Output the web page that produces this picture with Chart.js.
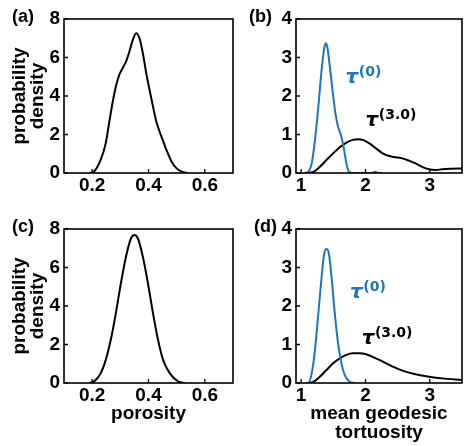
<!DOCTYPE html>
<html>
<head>
<meta charset="utf-8">
<script src="https://cdn.jsdelivr.net/npm/chart.js@4.4.1/dist/chart.umd.min.js"></script>
<style>
  body { margin: 0; background: #fff; }
  #wrap { position: relative; width: 464px; height: 446px; }
  canvas { position: absolute; }
</style>
</head>
<body>
<div id="wrap">
  <canvas id="panelA" width="240" height="205" style="left:0px;top:0px"></canvas>
  <canvas id="panelB" width="228" height="205" style="left:236px;top:0px"></canvas>
  <canvas id="panelC" width="240" height="236" style="left:0px;top:210px"></canvas>
  <canvas id="panelD" width="228" height="236" style="left:236px;top:210px"></canvas>
</div>
<script>
// ---- data ----
// (a) porosity density, top row
const porosityA_x = [0.19, 0.206, 0.23, 0.248, 0.26, 0.272, 0.284, 0.296, 0.308, 0.32, 0.332, 0.344, 0.356, 0.368, 0.38, 0.392, 0.404, 0.416, 0.428, 0.446, 0.464, 0.482, 0.50, 0.518, 0.54];
const porosityA_y = [0.0, 0.07, 0.68, 1.54, 2.58, 3.62, 4.48, 5.09, 5.44, 5.78, 6.3, 6.9, 7.26, 7.0, 6.22, 5.18, 4.31, 3.45, 2.66, 1.89, 1.19, 0.59, 0.24, 0.07, 0.0];

// (c) porosity density, bottom row
const porosityC_x = [0.19, 0.206, 0.23, 0.248, 0.266, 0.284, 0.302, 0.32, 0.338, 0.35, 0.362, 0.38, 0.398, 0.416, 0.434, 0.452, 0.476, 0.506, 0.53];
const porosityC_y = [0.0, 0.07, 0.5, 1.19, 2.23, 3.62, 5.18, 6.56, 7.52, 7.69, 7.52, 6.56, 5.18, 3.62, 2.23, 1.19, 0.5, 0.07, 0.0];

// (b) tortuosity tau(0) and tau(3.0)
const tau0B_x = [1.08, 1.112, 1.164, 1.215, 1.267, 1.318, 1.359, 1.385, 1.41, 1.446, 1.487, 1.533, 1.574, 1.626, 1.667, 1.703, 1.744, 1.8, 2.1, 2.15, 2.2, 2.25];
const tau0B_y = [0, 0.03, 0.25, 0.86, 1.72, 2.68, 3.24, 3.37, 3.24, 2.76, 2.16, 1.55, 1.2, 0.94, 0.6, 0.25, 0.03, 0, 0, 0.03, 0, 0];
const tau3B_x = [1.05, 1.19, 1.29, 1.395, 1.497, 1.6, 1.703, 1.805, 1.882, 1.959, 2.06, 2.164, 2.267, 2.37, 2.47, 2.574, 2.677, 2.78, 2.88, 2.985, 3.09, 3.19, 3.34, 3.5];
const tau3B_y = [0, 0.03, 0.16, 0.34, 0.51, 0.67, 0.79, 0.86, 0.875, 0.86, 0.77, 0.64, 0.51, 0.44, 0.41, 0.38, 0.32, 0.25, 0.16, 0.096, 0.078, 0.096, 0.11, 0.12];

// (d) tortuosity tau(0) and tau(3.0)
const tau0D_x = [1.08, 1.112, 1.164, 1.215, 1.267, 1.318, 1.359, 1.395, 1.43, 1.472, 1.523, 1.574, 1.626, 1.677, 1.754, 1.83];
const tau0D_y = [0, 0.0, 0.25, 0.86, 1.81, 2.76, 3.37, 3.48, 3.37, 2.76, 1.81, 1.03, 0.51, 0.21, 0.03, 0];
const tau3D_x = [1.08, 1.19, 1.29, 1.395, 1.497, 1.6, 1.703, 1.805, 1.908, 2.01, 2.11, 2.216, 2.37, 2.523, 2.677, 2.83, 2.985, 3.19, 3.5];
const tau3D_y = [0, 0.03, 0.16, 0.34, 0.51, 0.64, 0.73, 0.77, 0.77, 0.745, 0.68, 0.6, 0.47, 0.355, 0.27, 0.21, 0.165, 0.12, 0.08];

// ticks
const porosityTicks = [0.2, 0.4, 0.6];
const porosityTickLabels = ['0.2', '0.4', '0.6'];
const tortuosityTicks = [1, 2, 3];
const tortuosityTickLabels = ['1', '2', '3'];
const densityTicksAC = [0, 2, 4, 6, 8];
const densityTickLabelsAC = ['0', '2', '4', '6', '8'];
const densityTicksBD = [0, 1, 2, 3, 4];
const densityTickLabelsBD = ['0', '1', '2', '3', '4'];

const blue = '#1f77b4';
const black = '#000000';

Chart.defaults.font.family = "'Liberation Sans', Arial, sans-serif";
Chart.defaults.font.weight = 'bold';
Chart.defaults.color = '#000';

function toPoints(xs, ys) {
  return xs.map((x, i) => ({ x: x, y: ys[i] }));
}

// box + inward ticks + panel letter + tau labels
function panelDecor(letter, letterX, notes) {
  return {
    id: 'panelDecor',
    afterDraw(chart) {
      const { ctx, chartArea: { left, top, right, bottom } } = chart;
      const xs = chart.scales.x;
      const ys = chart.scales.y;
      ctx.save();
      ctx.strokeStyle = '#000';
      ctx.lineWidth = 1.6;
      ctx.strokeRect(left, top, right - left, bottom - top);
      ctx.lineWidth = 1.3;
      ctx.beginPath();
      xs.ticks.forEach(t => {
        const px = xs.getPixelForValue(t.value);
        ctx.moveTo(px, bottom);
        ctx.lineTo(px, bottom - 4);
      });
      ys.ticks.forEach(t => {
        const py = ys.getPixelForValue(t.value);
        ctx.moveTo(left, py);
        ctx.lineTo(left + 4, py);
      });
      ctx.stroke();

      ctx.fillStyle = '#000';
      ctx.textBaseline = 'alphabetic';
      ctx.textAlign = 'left';
      ctx.font = "bold 18px 'Liberation Sans', Arial, sans-serif";
      ctx.fillText(letter, letterX, 22);

      notes.forEach(n => {
        const px = xs.getPixelForValue(n.x);
        const py = ys.getPixelForValue(n.y);
        ctx.fillStyle = n.color;
        ctx.font = "italic bold 20px 'DejaVu Sans', sans-serif";
        ctx.fillText('\u03C4', px, py);
        const w = ctx.measureText('\u03C4').width;
        ctx.font = "bold 14px 'DejaVu Sans', sans-serif";
        ctx.fillText(n.sup, px + w + 0.5, py - 7);
      });
      ctx.restore();
    }
  };
}

function makePanel(p) {
  const ctx = document.getElementById(p.canvas).getContext('2d');
  return new Chart(ctx, {
    type: 'line',
    data: {
      datasets: p.series.map(s => ({
        data: toPoints(s.xs, s.ys),
        borderColor: s.color,
        borderWidth: 2,
        pointRadius: 0,
        fill: false,
        cubicInterpolationMode: 'monotone'
      }))
    },
    options: {
      responsive: false,
      animation: false,
      devicePixelRatio: 1,
      layout: { padding: { top: p.padTop, right: p.padRight, left: 0, bottom: 0 } },
      plugins: { legend: { display: false }, tooltip: { enabled: false } },
      scales: {
        x: {
          type: 'linear',
          min: p.xMin,
          max: p.xMax,
          grid: { display: false, drawTicks: false },
          border: { display: false },
          afterBuildTicks: scale => { scale.ticks = p.xTicks.map(v => ({ value: v })); },
          afterFit: scale => { scale.height = p.xHeight; },
          ticks: {
            autoSkip: false,
            maxRotation: 0,
            padding: 3,
            font: { size: 19, weight: 'bold', lineHeight: 1 },
            callback: (v, i) => p.xTickLabels[i]
          },
          title: {
            display: p.xTitle.length > 0,
            text: p.xTitle,
            font: { size: 19, weight: 'bold', lineHeight: 1 },
            padding: { top: 0, bottom: p.xTitlePad }
          }
        },
        y: {
          type: 'linear',
          min: 0,
          max: p.yMax,
          grid: { display: false, drawTicks: false },
          border: { display: false },
          afterBuildTicks: scale => { scale.ticks = p.yTicks.map(v => ({ value: v })); },
          afterFit: scale => { scale.width = p.yWidth; },
          ticks: {
            autoSkip: false,
            padding: 4,
            font: { size: 19, weight: 'bold', lineHeight: 1 },
            callback: (v, i) => p.yTickLabels[i]
          },
          title: {
            display: p.yTitle.length > 0,
            text: p.yTitle,
            font: { size: 19, weight: 'bold', lineHeight: '18px' },
            padding: { top: 11, bottom: 0 }
          }
        }
      }
    },
    plugins: [panelDecor(p.letter, p.letterX, p.notes)]
  });
}

makePanel({
  canvas: 'panelA', letter: '(a)', letterX: 12,
  xMin: 0.1, xMax: 0.7, xTicks: porosityTicks, xTickLabels: porosityTickLabels,
  yMax: 8, yTicks: densityTicksAC, yTickLabels: densityTickLabelsAC,
  yWidth: 64, xHeight: 32, padTop: 19, padRight: 7,
  yTitle: ['probability', 'density'], xTitle: [], xTitlePad: 0,
  series: [{ xs: porosityA_x, ys: porosityA_y, color: black }],
  notes: []
});

makePanel({
  canvas: 'panelB', letter: '(b)', letterX: 13,
  xMin: 0.92, xMax: 3.5, xTicks: tortuosityTicks, xTickLabels: tortuosityTickLabels,
  yMax: 4, yTicks: densityTicksBD, yTickLabels: densityTickLabelsBD,
  yWidth: 60, xHeight: 32, padTop: 19, padRight: 2,
  yTitle: [], xTitle: [], xTitlePad: 0,
  series: [
    { xs: tau0B_x, ys: tau0B_y, color: blue },
    { xs: tau3B_x, ys: tau3B_y, color: black }
  ],
  notes: [
    { x: 1.69, y: 2.33, color: blue, sup: '(0)' },
    { x: 2.0, y: 1.22, color: black, sup: '(3.0)' }
  ]
});

makePanel({
  canvas: 'panelC', letter: '(c)', letterX: 12,
  xMin: 0.1, xMax: 0.7, xTicks: porosityTicks, xTickLabels: porosityTickLabels,
  yMax: 8, yTicks: densityTicksAC, yTickLabels: densityTickLabelsAC,
  yWidth: 64, xHeight: 63, padTop: 19, padRight: 7,
  yTitle: ['probability', 'density'], xTitle: 'porosity', xTitlePad: 23,
  series: [{ xs: porosityC_x, ys: porosityC_y, color: black }],
  notes: []
});

makePanel({
  canvas: 'panelD', letter: '(d)', letterX: 18,
  xMin: 0.92, xMax: 3.5, xTicks: tortuosityTicks, xTickLabels: tortuosityTickLabels,
  yMax: 4, yTicks: densityTicksBD, yTickLabels: densityTickLabelsBD,
  yWidth: 60, xHeight: 63, padTop: 19, padRight: 2,
  yTitle: [], xTitle: ['mean geodesic', 'tortuosity'], xTitlePad: 4,
  series: [
    { xs: tau0D_x, ys: tau0D_y, color: blue },
    { xs: tau3D_x, ys: tau3D_y, color: black }
  ],
  notes: [
    { x: 1.76, y: 2.2, color: blue, sup: '(0)' },
    { x: 1.94, y: 1.01, color: black, sup: '(3.0)' }
  ]
});
</script>
</body>
</html>
